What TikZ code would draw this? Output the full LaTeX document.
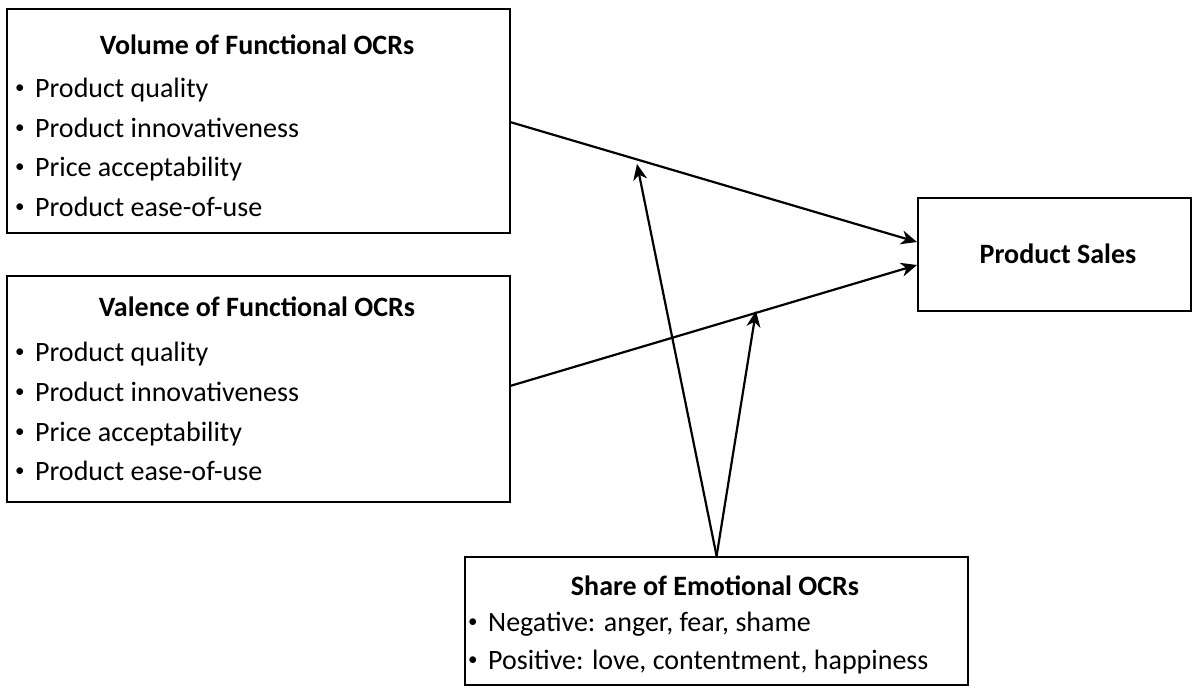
\documentclass[tikz,border=0pt]{standalone}
\usepackage{fontspec}
\setmainfont{Carlito}
\usetikzlibrary{arrows.meta,positioning}
\newcommand\mybul{\makebox[20pt][l]{\raisebox{3.2pt}{\fontsize{19}{20}\selectfont•}}}
\tikzset{
  box/.style={draw, line width=2.2pt, inner sep=0pt, anchor=north west},
  txt/.style={inner sep=0pt, anchor=base west, font=\fontsize{28}{32}\selectfont},
  ttl/.style={inner sep=0pt, anchor=base, font=\fontsize{28}{32}\selectfont\bfseries},
  conn/.style={line width=2.2pt, -{Stealth[length=16pt, width=14pt, inset=5pt]}},
}
\begin{document}
\begin{tikzpicture}[x=1pt,y=-1pt]
\useasboundingbox (0,0) rectangle (1197,689);
% boxes
\node[box, minimum width=503pt, minimum height=224pt] (vol) at (6,8) {};
\node[box, minimum width=503pt, minimum height=226pt] (val) at (6,275) {};
\node[box, minimum width=503pt, minimum height=128pt] (emo) at (464,556) {};
\node[box, minimum width=273pt, minimum height=113pt] (ps) at (917,197) {};
% volume text
\node[ttl] (volT) at (257,54) {Volume of Functional OCRs};
\node[txt] (vol1) at (15,97) {\mybul Product quality};
\node[txt] (vol2) at (15,137) {\mybul Product innovativeness};
\node[txt] (vol3) at (15,176) {\mybul Price acceptability};
\node[txt] (vol4) at (15,216) {\mybul Product ease-of-use};
% valence text
\node[ttl] (valT) at (257,316) {Valence of Functional OCRs};
\node[txt] (val1) at (15,361) {\mybul Product quality};
\node[txt] (val2) at (15,401) {\mybul Product innovativeness};
\node[txt] (val3) at (15,441) {\mybul Price acceptability};
\node[txt] (val4) at (15,480) {\mybul Product ease-of-use};
% emotional text
\node[ttl] (emoT) at (715,595) {Share of Emotional OCRs};
\node[txt] (emo1) at (468,631) {\mybul Negative: anger, fear, shame};
\node[txt] (emo2) at (468,669) {\mybul Positive: love, contentment, happiness};
% product sales
\node[ttl] (psT) at (1058,263) {Product Sales};
% connectors
\coordinate (a1) at (510,122);
\coordinate (a2) at (510,386);
\coordinate (e1) at (917,242);
\coordinate (e2) at (917,265);
\coordinate (m1) at (637,164);
\coordinate (m2) at (756,311);
\draw[conn] (a1) -- (e1);
\draw[conn] (a2) -- (e2);
\draw[conn] (emo.north) -- (m1);
\draw[conn] (emo.north) -- (m2);
\end{tikzpicture}
\end{document}
